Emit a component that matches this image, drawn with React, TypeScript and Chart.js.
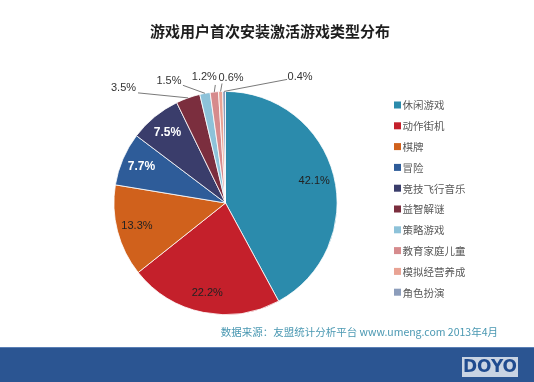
import React, { useEffect, useRef } from "react";
import { Chart, registerables } from "chart.js";

Chart.register(...registerables);

const chartTitle = "游戏用户首次安装激活游戏类型分布";
const categories = [
  "休闲游戏",
  "动作街机",
  "棋牌",
  "冒险",
  "竞技飞行音乐",
  "益智解谜",
  "策略游戏",
  "教育家庭儿童",
  "模拟经营养成",
  "角色扮演",
];
const shares = [42.1, 22.2, 13.3, 7.7, 7.5, 3.5, 1.5, 1.2, 0.6, 0.4];
const sourceNote = "数据来源：友盟统计分析平台 www.umeng.com 2013年4月";
const logoText = "DOYO";

const sliceColors = [
  "#2B8BAC",
  "#C4202B",
  "#D0611C",
  "#2E5C99",
  "#3A3D6B",
  "#7B2E3E",
  "#8DC2D9",
  "#D68B8D",
  "#E9A394",
  "#8C9DBB",
];

const CJK = '"Noto Sans CJK SC", "Liberation Sans", sans-serif';
const LAT = '"Liberation Sans", "Noto Sans CJK SC", sans-serif';

const decorPlugin = {
  id: "decor",
  beforeDraw(chart: any) {
    const ctx = chart.ctx;
    const W = chart.width;
    const H = chart.height;
    ctx.save();
    ctx.fillStyle = "#ffffff";
    ctx.fillRect(0, 0, W, H);
    ctx.fillStyle = "#2B5592";
    ctx.fillRect(0, 347, W, H - 347);
    ctx.fillStyle = "#5a7fb5";
    ctx.fillRect(0, 347, W, 1);
    ctx.fillStyle = "#C9D4E3";
    ctx.fillRect(462, 357, 56, 20);
    ctx.fillStyle = "#1F4B8F";
    ctx.font = 'bold 17px "DejaVu Sans", sans-serif';
    ctx.textAlign = "center";
    ctx.textBaseline = "middle";
    ctx.fillText(logoText, 490, 367.5);
    ctx.restore();
  },
  afterDatasetsDraw(chart: any, _args: any, opts: any) {
    const ctx = chart.ctx;
    const meta = chart.getDatasetMeta(0);
    const data = chart.data.datasets[0].data as number[];
    const bg = chart.data.datasets[0].backgroundColor as string[];
    ctx.save();
    meta.data.forEach((arc: any, i: number) => {
      const p = arc.getProps(["x", "y", "startAngle", "endAngle", "outerRadius"], true);
      const mid = (p.startAngle + p.endAngle) / 2;
      const text = data[i].toFixed(1) + "%";
      const o = opts.outside[i];
      ctx.textAlign = "center";
      ctx.textBaseline = "middle";
      if (o) {
        const ex = p.x + Math.cos(mid) * p.outerRadius;
        const ey = p.y + Math.sin(mid) * p.outerRadius;
        ctx.strokeStyle = "#7a7a7a";
        ctx.lineWidth = 1;
        ctx.beginPath();
        ctx.moveTo(ex, ey);
        ctx.lineTo(ex + o.lx, ey + o.ly);
        ctx.stroke();
        ctx.fillStyle = "#333333";
        ctx.font = "11px " + LAT;
        ctx.fillText(text, ex + o.tx, ey + o.ty);
      } else {
        const r = p.outerRadius * 0.82;
        const lx = p.x + Math.cos(mid) * r;
        const ly = p.y + Math.sin(mid) * r;
        if (opts.white.includes(i)) {
          ctx.fillStyle = "#ffffff";
          ctx.font = "bold 12px " + LAT;
        } else {
          ctx.fillStyle = "#222222";
          ctx.font = "11px " + LAT;
        }
        ctx.fillText(text, lx, ly);
      }
    });

    const labels = chart.data.labels as string[];
    ctx.textAlign = "left";
    ctx.textBaseline = "middle";
    ctx.font = "10.5px " + CJK;
    labels.forEach((lab, i) => {
      const cy = 105 + i * 20.8;
      ctx.fillStyle = bg[i];
      ctx.fillRect(394, cy - 3.5, 7, 7);
      ctx.fillStyle = "#595959";
      ctx.fillText(lab, 402.5, cy + 0.5);
    });

    ctx.fillStyle = "#1e1e1e";
    ctx.font = "bold 15px " + CJK;
    ctx.textAlign = "center";
    ctx.fillText(chartTitle, 270, 31);

    ctx.fillStyle = "#4A98B2";
    ctx.font = "10.5px " + CJK;
    ctx.textAlign = "right";
    ctx.fillText(sourceNote, 498, 332);
    ctx.restore();
  },
};

export default function App() {
  const ref = useRef<HTMLCanvasElement | null>(null);
  useEffect(() => {
    document.body.style.margin = "0";
    if (!ref.current) return;
    const chart = new Chart(ref.current, {
      type: "pie",
      data: {
        labels: categories,
        datasets: [
          {
            data: shares,
            backgroundColor: sliceColors,
            borderColor: "#ffffff",
            borderWidth: 0.8,
          },
        ],
      },
      options: {
        responsive: false,
        animation: false,
        events: [],
        layout: { padding: { left: 113, top: 91, right: 196, bottom: 67 } },
        plugins: {
          legend: { display: false },
          tooltip: { enabled: false },
          decor: {
            white: [3, 4],
            outside: {
              5: { tx: -64.5, ty: -9.5, lx: -50, ly: -5 },
              6: { tx: -36, ty: -12, lx: -22, ly: -8 },
              7: { tx: -10, ty: -14.6, lx: 1, ly: -7 },
              8: { tx: 10.4, ty: -14, lx: 1.4, ly: -8 },
              9: { tx: 76, ty: -14, lx: 63, ly: -12 },
            },
          },
        } as any,
      },
      plugins: [decorPlugin],
    });
    return () => chart.destroy();
  }, []);
  return (
    <div style={{ width: 534, height: 382 }}>
      <canvas ref={ref} width={534} height={382} style={{ display: "block" }} />
    </div>
  );
}
